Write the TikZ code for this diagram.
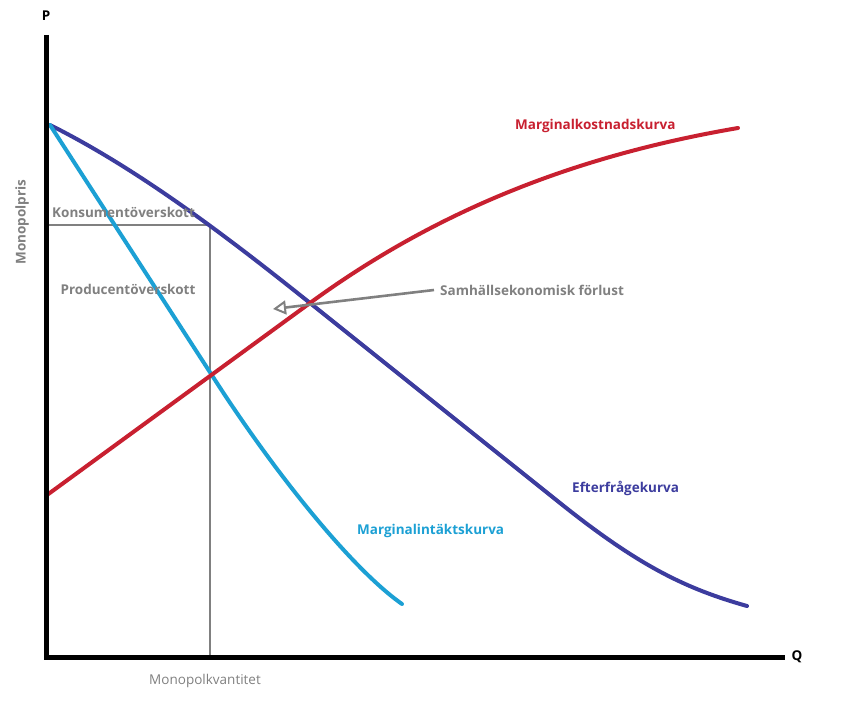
\documentclass[tikz,border=0pt]{standalone}
\usepackage{fontspec}
\setmainfont{Open Sans}
\usetikzlibrary{arrows.meta}
\definecolor{dem}{RGB}{60,60,158}
\definecolor{mr}{RGB}{28,160,212}
\definecolor{mc}{RGB}{200,32,48}
\definecolor{gr}{RGB}{128,128,128}
\tikzset{
  axis/.style={line width=5pt},
  curve/.style={line width=4pt, line cap=round, line join=round},
  guide/.style={line width=2.6pt, gr},
  lbl/.style={font=\fontsize{13.5}{16}\selectfont\bfseries, inner sep=0pt},
}
\begin{document}
\begin{tikzpicture}[x=1pt,y=-1pt]
\useasboundingbox (0,0) rectangle (858,701);
% guides
\draw[guide] (46,225) -- (210,225) -- (210,657);
% demand
\draw[curve, dem] (50,125) .. controls (140,170) and (230,239) .. (310,303)
  -- (560,503) .. controls (640,567) and (687,589) .. (747,606);
% marginal revenue
\draw[curve, mr] (50,125) -- (215,380) .. controls (275,473) and (352,569) .. (402,604);
% marginal cost
\draw[curve, mc] (47,495) -- (310,303) .. controls (440,208) and (580,155) .. (738,128);
% axes
\draw[axis] (46,35) -- (46,659);
\draw[axis] (44,657) -- (785,657);
\node[lbl] (P) at (46,16) {P};
\node[lbl] (Q) at (797,657) {Q};
\node[lbl, gr, rotate=90] (mp) at (22,222) {Monopolpris};
\node[lbl, gr, anchor=west] (ko) at (52,212) {Konsumentöverskott};
\node[lbl, gr] (po) at (128,289) {Producentöverskott};
\node[lbl, gr, anchor=west] (sam) at (440,290) {Samhällsekonomisk förlust};
\coordinate (tip) at (273,309);
\draw[guide, -{Triangle[open, length=13pt, width=14pt, line width=2pt]}] (sam.west) ++(-6,0) -- (tip);
\node[lbl, mc, anchor=west] (mcl) at (515,126) {Marginalkostnadskurva};
\node[lbl, dem, anchor=west] (dl) at (572,488) {Efterfrågekurva};
\node[lbl, mr, anchor=west] (mrl) at (357,531) {Marginalintäktskurva};
\node[lbl, gr, font=\fontsize{13.5}{16}\selectfont] (mq) at (205,681) {Monopolkvantitet};
\end{tikzpicture}
\end{document}
